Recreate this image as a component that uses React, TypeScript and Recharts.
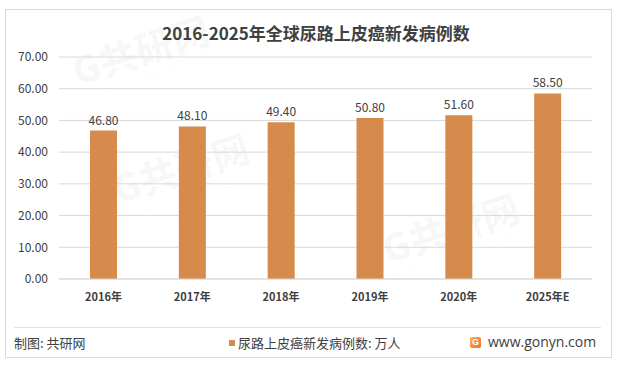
import React from 'react';
import { BarChart, Bar, XAxis, YAxis, CartesianGrid, LabelList } from 'recharts';

const categories = ['2016年', '2017年', '2018年', '2019年', '2020年', '2025年E'];
const cases = [46.8, 48.1, 49.4, 50.8, 51.6, 58.5];
const yTicks = [0, 10, 20, 30, 40, 50, 60, 70];

const title = '2016-2025年全球尿路上皮癌新发病例数';
const sourceText = '制图: 共研网';
const legendText = '尿路上皮癌新发病例数: 万人';
const siteText = 'www.gonyn.com';

const data = categories.map((c, i) => ({ name: c, value: cases[i] }));

const FONT = '"Noto Sans CJK SC", "Noto Sans", sans-serif';
const BAR = '#D68B4C';
const TEXT = '#404040';

const watermarks = [
  { x: 70, y: 22 },
  { x: 110, y: 140 },
  { x: 380, y: 200 },
];

export default function App() {
  return (
    <div style={{ position: 'absolute', left: 0, top: 0, width: 617, height: 367, background: '#fff', fontFamily: FONT, overflow: 'hidden' }}>
      {watermarks.map((w, i) => (
        <div key={i} style={{ position: 'absolute', left: w.x, top: w.y, transform: 'rotate(-18deg)', color: 'rgba(0,0,0,0.03)', fontSize: 38, fontWeight: 900, whiteSpace: 'nowrap', lineHeight: 1 }}>
          G共研网
          <div style={{ fontSize: 13, letterSpacing: 7, fontWeight: 400 }}>www.gonyn.com</div>
        </div>
      ))}
      <div style={{ position: 'absolute', left: 5, top: 9, width: 605, height: 347, border: '1px solid #D9D9D9' }} />
      <div style={{ position: 'absolute', left: 0, top: 22, width: 632, textAlign: 'center', fontSize: 17, fontWeight: 700, color: TEXT, lineHeight: '22px' }}>
        {title}
      </div>
      <div style={{ position: 'absolute', left: 0, top: 0 }}>
        <BarChart width={617} height={367} data={data} margin={{ top: 57, right: 25, left: 0, bottom: 58 }}>
          <CartesianGrid vertical={false} stroke="#D9D9D9" />
          <XAxis
            dataKey="name"
            height={30}
            axisLine={{ stroke: '#D9D9D9' }}
            tickLine={false}
            tickSize={0}
            tickMargin={14}
            tick={{ fill: TEXT, fontSize: 11, fontWeight: 700, fontFamily: FONT }}
            interval={0}
          />
          <YAxis
            width={59}
            domain={[0, 70]}
            ticks={yTicks}
            axisLine={false}
            tickLine={false}
            tickSize={0}
            tickMargin={11}
            tickFormatter={(v: number) => v.toFixed(2)}
            tick={{ fill: TEXT, fontSize: 12, fontFamily: FONT }}
          />
          <Bar dataKey="value" fill={BAR} barSize={27} isAnimationActive={false}>
            <LabelList
              dataKey="value"
              position="top"
              offset={6}
              formatter={(v: number) => v.toFixed(2)}
              style={{ fill: TEXT, fontSize: 12, fontFamily: FONT }}
            />
          </Bar>
        </BarChart>
      </div>
      <div style={{ position: 'absolute', left: 14, top: 327, width: 587, height: 1, background: '#E3E3E3' }} />
      <div style={{ position: 'absolute', left: 14, top: 334, fontSize: 13, color: TEXT, lineHeight: '18px' }}>{sourceText}</div>
      <div style={{ position: 'absolute', left: 229, top: 340, width: 6, height: 6, background: BAR }} />
      <div style={{ position: 'absolute', left: 238, top: 334, fontSize: 13, color: TEXT, lineHeight: '18px' }}>{legendText}</div>
      <div style={{ position: 'absolute', left: 470, top: 337, width: 11, height: 11, borderRadius: 2, background: 'linear-gradient(135deg, #FBB04B, #F26A3B)', color: '#fff', fontSize: 9, fontWeight: 900, lineHeight: '11px', textAlign: 'center', fontFamily: 'Arial, sans-serif' }}>G</div>
      <div style={{ position: 'absolute', left: 488, top: 333, fontSize: 14, color: TEXT, lineHeight: '18px', fontFamily: '"Open Sans", "Noto Sans", sans-serif' }}>{siteText}</div>
    </div>
  );
}
